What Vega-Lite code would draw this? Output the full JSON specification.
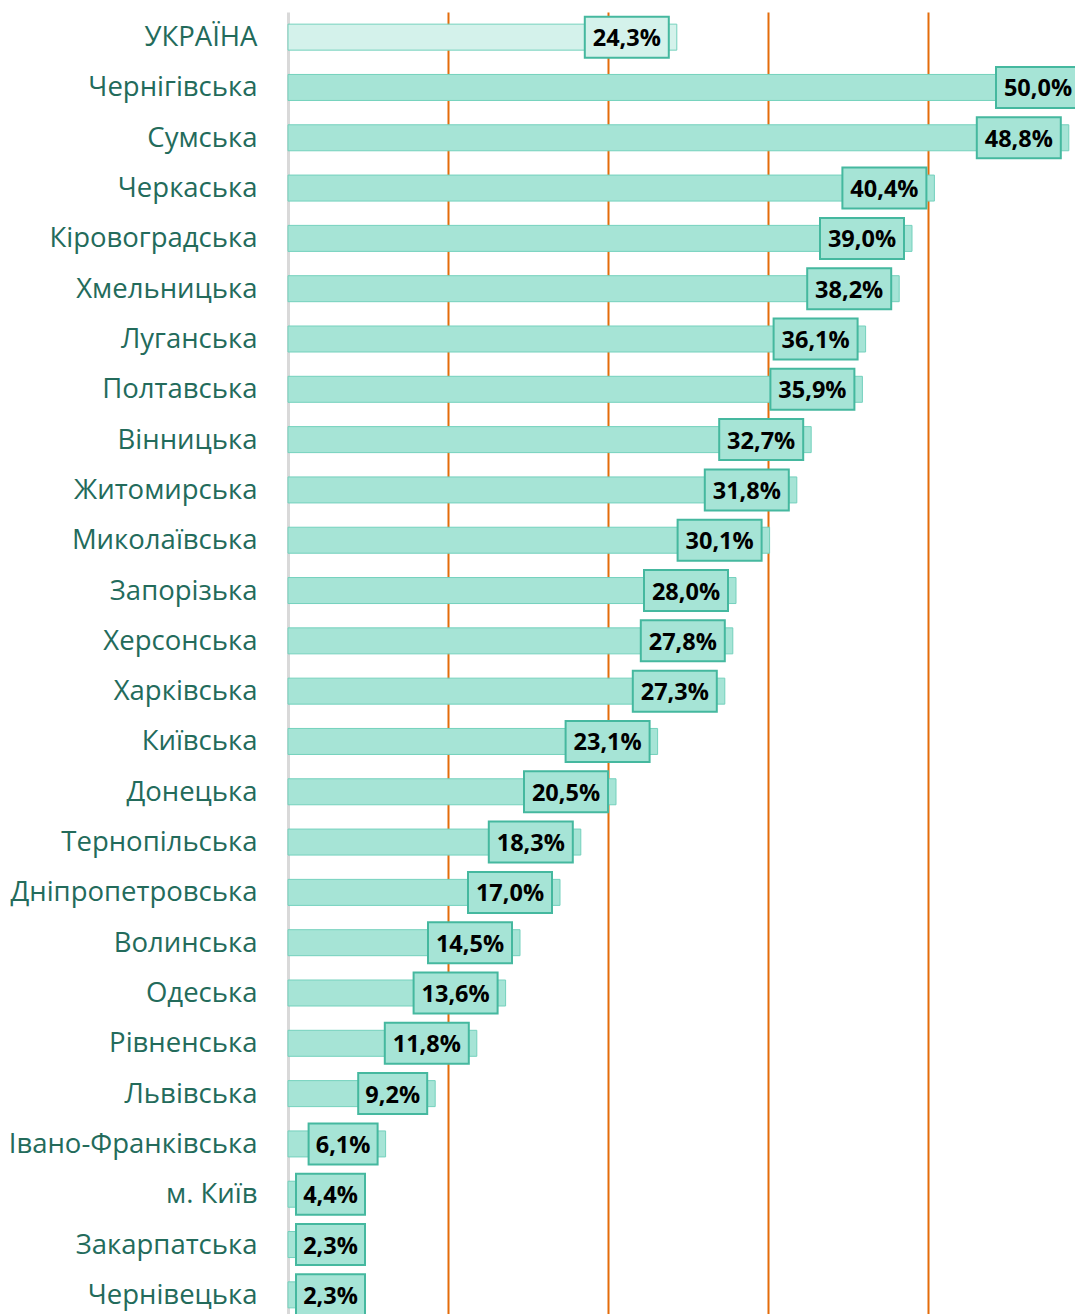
{
  "$schema": "https://vega.github.io/schema/vega-lite/v6.json",
  "width": 787,
  "height": 1308,
  "autosize": {"type": "none"},
  "padding": {"left": 288, "top": 12, "right": 0, "bottom": 0},
  "background": "white",
  "config": {"view": {"stroke": null}},
  "data": {"values": [
    {"region": "УКРАЇНА", "value": 24.3},
    {"region": "Чернігівська", "value": 50.0},
    {"region": "Сумська", "value": 48.8},
    {"region": "Черкаська", "value": 40.4},
    {"region": "Кіровоградська", "value": 39.0},
    {"region": "Хмельницька", "value": 38.2},
    {"region": "Луганська", "value": 36.1},
    {"region": "Полтавська", "value": 35.9},
    {"region": "Вінницька", "value": 32.7},
    {"region": "Житомирська", "value": 31.8},
    {"region": "Миколаївська", "value": 30.1},
    {"region": "Запорізька", "value": 28.0},
    {"region": "Херсонська", "value": 27.8},
    {"region": "Харківська", "value": 27.3},
    {"region": "Київська", "value": 23.1},
    {"region": "Донецька", "value": 20.5},
    {"region": "Тернопільська", "value": 18.3},
    {"region": "Дніпропетровська", "value": 17.0},
    {"region": "Волинська", "value": 14.5},
    {"region": "Одеська", "value": 13.6},
    {"region": "Рівненська", "value": 11.8},
    {"region": "Львівська", "value": 9.2},
    {"region": "Івано-Франківська", "value": 6.1},
    {"region": "м. Київ", "value": 4.4},
    {"region": "Закарпатська", "value": 2.3},
    {"region": "Чернівецька", "value": 2.3}
  ]},
  "encoding": {
    "y": {
      "field": "region", "type": "nominal", "sort": null,
      "scale": {"paddingInner": 0, "paddingOuter": 0},
      "axis": {
        "title": null, "ticks": false, "labelPadding": 31, "labelOffset": 1,
        "labelFont": "Open Sans", "labelFontSize": 27.5, "labelColor": "#236b5b",
        "domainColor": "#d9d9d9", "domainWidth": 3, "labelLimit": 300
      }
    }
  },
  "layer": [
    {
      "mark": {"type": "bar", "size": 26, "stroke": "#74d1bd", "strokeWidth": 1},
      "encoding": {
        "x": {
          "field": "value", "type": "quantitative",
          "scale": {"domain": [0, 49.1875], "nice": false, "zero": true},
          "axis": {
            "title": null, "labels": false, "ticks": false, "domain": false,
            "values": [10, 20, 30, 40], "grid": true,
            "gridColor": "#e46c0a", "gridWidth": 2
          }
        },
        "fill": {
          "condition": {"test": "datum.region === 'УКРАЇНА'", "value": "#d4f2eb"},
          "value": "#a6e4d6"
        }
      }
    },
    {
      "transform": [{"filter": "datum.value >= 10"}],
      "mark": {"type": "bar", "size": 41, "stroke": "#45b89f", "strokeWidth": 2, "xOffset": -92, "x2Offset": -8},
      "encoding": {
        "x": {"field": "value", "type": "quantitative"},
        "x2": {"field": "value"},
        "fill": {
          "condition": {"test": "datum.region === 'УКРАЇНА'", "value": "#d4f2eb"},
          "value": "#a6e4d6"
        }
      }
    },
    {
      "transform": [{"filter": "datum.value >= 5 && datum.value < 10"}],
      "mark": {"type": "bar", "size": 41, "stroke": "#45b89f", "strokeWidth": 2, "fill": "#a6e4d6", "xOffset": -77, "x2Offset": -8},
      "encoding": {
        "x": {"field": "value", "type": "quantitative"},
        "x2": {"field": "value"}
      }
    },
    {
      "transform": [{"filter": "datum.value < 5"}],
      "mark": {"type": "bar", "size": 41, "stroke": "#45b89f", "strokeWidth": 2, "fill": "#a6e4d6", "xOffset": 8, "x2Offset": 77},
      "encoding": {
        "x": {"datum": 0, "type": "quantitative"},
        "x2": {"datum": 0}
      }
    },
    {
      "transform": [{"filter": "datum.value >= 10"}],
      "mark": {"type": "text", "font": "Open Sans", "fontSize": 23.5, "fontWeight": "bold", "color": "#000000", "align": "center", "baseline": "middle", "dx": -50, "dy": 2,
        "text": {"expr": "replace(format(datum.value, '.1f'), '.', ',') + '%'"}},
      "encoding": {
        "x": {"field": "value", "type": "quantitative"}
      }
    },
    {
      "transform": [{"filter": "datum.value >= 5 && datum.value < 10"}],
      "mark": {"type": "text", "font": "Open Sans", "fontSize": 23.5, "fontWeight": "bold", "color": "#000000", "align": "center", "baseline": "middle", "dx": -42.5, "dy": 2,
        "text": {"expr": "replace(format(datum.value, '.1f'), '.', ',') + '%'"}},
      "encoding": {
        "x": {"field": "value", "type": "quantitative"}
      }
    },
    {
      "transform": [{"filter": "datum.value < 5"}],
      "mark": {"type": "text", "font": "Open Sans", "fontSize": 23.5, "fontWeight": "bold", "color": "#000000", "align": "center", "baseline": "middle", "dx": 42.5, "dy": 2,
        "text": {"expr": "replace(format(datum.value, '.1f'), '.', ',') + '%'"}},
      "encoding": {
        "x": {"datum": 0, "type": "quantitative"}
      }
    }
  ]
}
